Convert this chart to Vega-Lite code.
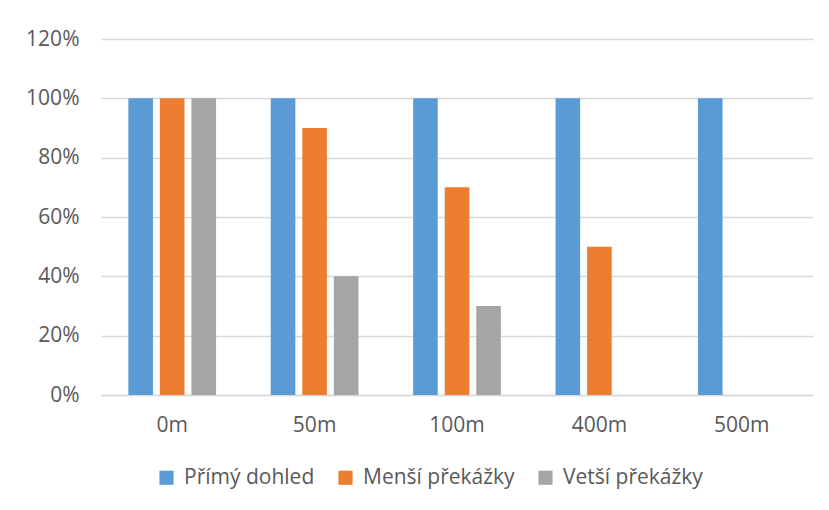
{
  "$schema": "https://vega.github.io/schema/vega-lite/v6.json",
  "width": 712,
  "height": 356,
  "autosize": {"type": "none"},
  "padding": {"left": 101, "top": 39, "right": 16, "bottom": 115},
  "background": "white",
  "config": {
    "view": {"stroke": null},
    "font": "Open Sans",
    "axis": {"labelFont": "Open Sans", "labelColor": "#595959", "labelFontSize": 21},
    "legend": {"labelFont": "Open Sans", "labelColor": "#595959", "labelFontSize": 21}
  },
  "data": {
    "values": [
      {"dist": "0m", "series": "Přímý dohled", "value": 1.0},
      {"dist": "0m", "series": "Menší překážky", "value": 1.0},
      {"dist": "0m", "series": "Vetší překážky", "value": 1.0},
      {"dist": "50m", "series": "Přímý dohled", "value": 1.0},
      {"dist": "50m", "series": "Menší překážky", "value": 0.9},
      {"dist": "50m", "series": "Vetší překážky", "value": 0.4},
      {"dist": "100m", "series": "Přímý dohled", "value": 1.0},
      {"dist": "100m", "series": "Menší překážky", "value": 0.7},
      {"dist": "100m", "series": "Vetší překážky", "value": 0.3},
      {"dist": "400m", "series": "Přímý dohled", "value": 1.0},
      {"dist": "400m", "series": "Menší překážky", "value": 0.5},
      {"dist": "400m", "series": "Vetší překážky", "value": 0},
      {"dist": "500m", "series": "Přímý dohled", "value": 1.0},
      {"dist": "500m", "series": "Menší překážky", "value": 0},
      {"dist": "500m", "series": "Vetší překážky", "value": 0}
    ]
  },
  "mark": {"type": "bar"},
  "encoding": {
    "x": {
      "field": "dist",
      "type": "nominal",
      "sort": ["0m", "50m", "100m", "400m", "500m"],
      "scale": {"paddingInner": 0.384, "paddingOuter": 0.192},
      "axis": {
        "title": null,
        "labelAngle": 0,
        "ticks": false,
        "domainColor": "#d9d9d9",
        "domainWidth": 1.5,
        "labelPadding": 19
      }
    },
    "xOffset": {
      "field": "series",
      "type": "nominal",
      "sort": ["Přímý dohled", "Menší překážky", "Vetší překážky"],
      "scale": {"paddingInner": 0.22}
    },
    "y": {
      "field": "value",
      "type": "quantitative",
      "scale": {"domain": [0, 1.2], "nice": false},
      "axis": {
        "title": null,
        "values": [0, 0.2, 0.4, 0.6, 0.8, 1.0, 1.2],
        "format": ".0%",
        "domain": false,
        "ticks": false,
        "gridColor": "#d9d9d9",
        "gridWidth": 1.5,
        "labelPadding": 22
      }
    },
    "color": {
      "field": "series",
      "type": "nominal",
      "sort": ["Přímý dohled", "Menší překážky", "Vetší překážky"],
      "scale": {
        "domain": ["Přímý dohled", "Menší překážky", "Vetší překážky"],
        "range": ["#5B9BD5", "#ED7D31", "#A5A5A5"]
      },
      "legend": {
        "title": null,
        "orient": "none",
        "legendX": 55,
        "legendY": 428,
        "direction": "horizontal",
        "symbolType": "square",
        "symbolSize": 200,
        "symbolStrokeWidth": 0,
        "columnPadding": 20,
        "labelOffset": 7
      }
    }
  }
}
